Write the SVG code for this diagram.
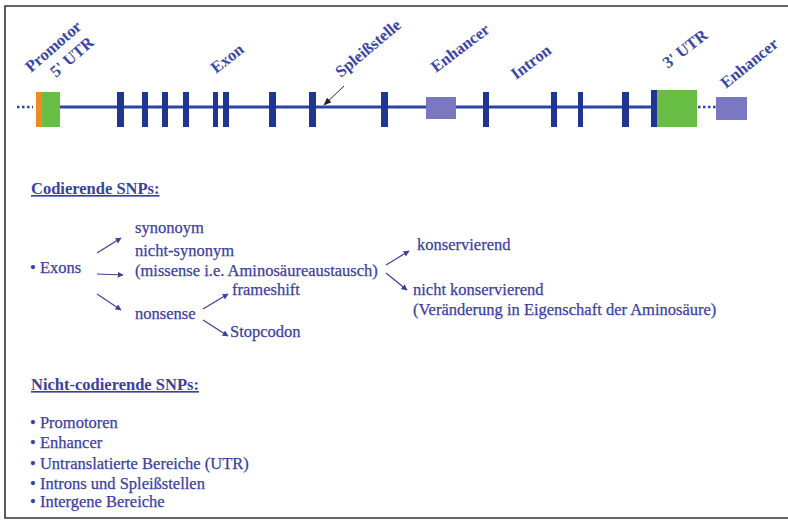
<svg xmlns="http://www.w3.org/2000/svg" width="788" height="521" viewBox="0 0 788 521">
<defs>
<style>
.t{font-family:"Liberation Serif","Times New Roman",serif;fill:#3b3f9e;font-size:16.5px;stroke:#3b3f9e;stroke-width:0.25}
.h{font-weight:bold;text-decoration:underline;stroke-width:0}
.lbl{font-family:"Liberation Serif","Times New Roman",serif;fill:#3b46a8;font-size:16.5px;font-weight:bold}
.bar{fill:#1f3591}
.c{stroke:#3b3f9e;stroke-width:1.2;fill:none}
</style>
<marker id="ah" viewBox="0 0 10 10" refX="9" refY="5" markerWidth="6" markerHeight="6" orient="auto" markerUnits="userSpaceOnUse">
<path d="M0,0 L10,5 L0,10 z" fill="#3b3f9e"/>
</marker>
<marker id="ak" viewBox="0 0 10 10" refX="9" refY="5" markerWidth="8" markerHeight="8" orient="auto" markerUnits="userSpaceOnUse">
<path d="M0,1 L10,5 L0,9 z" fill="#222"/>
</marker>
</defs>
<rect x="0" y="0" width="788" height="521" fill="#fff"/>
<path d="M790,6 H5 V518 H790" fill="none" stroke="#333" stroke-width="1.6"/>

<g id="gene">
<line x1="17" y1="107" x2="33" y2="107" stroke="#2a44a8" stroke-width="2.5" stroke-dasharray="2.5,2.5"/>
<line x1="60" y1="107" x2="652" y2="107" stroke="#2a44a8" stroke-width="3"/>
<line x1="698" y1="107" x2="716" y2="107" stroke="#2a44a8" stroke-width="2.5" stroke-dasharray="2.5,2.5"/>
<rect x="36" y="92" width="7" height="35" fill="#f08a24"/>
<rect x="42" y="92" width="18" height="35" fill="#68bd45"/>
<rect class="bar" x="117" y="92" width="7" height="35"/>
<rect class="bar" x="142" y="92" width="6" height="35"/>
<rect class="bar" x="162" y="92" width="6" height="35"/>
<rect class="bar" x="183" y="92" width="6" height="35"/>
<rect class="bar" x="213" y="92" width="5" height="35"/>
<rect class="bar" x="223" y="92" width="6" height="35"/>
<rect class="bar" x="269" y="92" width="7" height="35"/>
<rect class="bar" x="309" y="92" width="7" height="35"/>
<rect class="bar" x="381" y="92" width="7" height="35"/>
<rect x="426" y="97" width="30" height="22" fill="#7a78c0"/>
<rect class="bar" x="483" y="92" width="6" height="35"/>
<rect class="bar" x="551" y="92" width="6" height="35"/>
<rect class="bar" x="578" y="92" width="5" height="35"/>
<rect class="bar" x="622" y="92" width="7" height="35"/>
<rect x="657" y="90" width="40" height="37" fill="#68bd45"/>
<rect class="bar" x="651" y="90" width="6" height="37"/>
<rect x="716" y="97" width="31" height="23" fill="#7a78c0"/>
</g>

<g id="labels">
<text class="lbl" transform="translate(31,73) rotate(-41)">Promotor</text>
<text class="lbl" transform="translate(56,78) rotate(-41)">5' UTR</text>
<text class="lbl" transform="translate(216,74) rotate(-38)">Exon</text>
<text class="lbl" transform="translate(341,78) rotate(-40)">Spleißstelle</text>
<text class="lbl" transform="translate(436,73) rotate(-37)">Enhancer</text>
<text class="lbl" transform="translate(516,80) rotate(-37)">Intron</text>
<text class="lbl" transform="translate(668,69) rotate(-38)">3' UTR</text>
<text class="lbl" transform="translate(726,89) rotate(-39)">Enhancer</text>
</g>

<g id="connectors">
<line x1="344" y1="86" x2="324" y2="105" stroke="#222" stroke-width="1" marker-end="url(#ak)"/>
<line class="c" x1="97" y1="253" x2="121" y2="238" marker-end="url(#ah)"/>
<line class="c" x1="97" y1="274" x2="123" y2="275" marker-end="url(#ah)"/>
<line class="c" x1="97" y1="294" x2="121" y2="310" marker-end="url(#ah)"/>
<line class="c" x1="203" y1="309" x2="228" y2="294" marker-end="url(#ah)"/>
<line class="c" x1="203" y1="320" x2="228" y2="336" marker-end="url(#ah)"/>
<line class="c" x1="386" y1="265" x2="409" y2="251" marker-end="url(#ah)"/>
<line class="c" x1="386" y1="273" x2="407" y2="290" marker-end="url(#ah)"/>
</g>

<g id="coding">
<text class="t h" x="31" y="194">Codierende SNPs:</text>
<text class="t" x="30" y="273">• Exons</text>
<text class="t" x="135" y="233">synonoym</text>
<text class="t" x="135" y="256">nicht-synonym</text>
<text class="t" x="135" y="276">(missense i.e. Aminosäureaustausch)</text>
<text class="t" x="232" y="295">frameshift</text>
<text class="t" x="135" y="319">nonsense</text>
<text class="t" x="230" y="337">Stopcodon</text>
<text class="t" x="417" y="250">konservierend</text>
<text class="t" x="413" y="295">nicht konservierend</text>
<text class="t" x="413" y="315">(Veränderung in Eigenschaft der Aminosäure)</text>
</g>

<g id="noncoding">
<text class="t h" x="31" y="390">Nicht-codierende SNPs:</text>
<text class="t" x="30" y="428">• Promotoren</text>
<text class="t" x="30" y="448">• Enhancer</text>
<text class="t" x="30" y="469">• Untranslatierte Bereiche (UTR)</text>
<text class="t" x="30" y="489">• Introns und Spleißstellen</text>
<text class="t" x="30" y="507">• Intergene Bereiche</text>
</g>
</svg>
